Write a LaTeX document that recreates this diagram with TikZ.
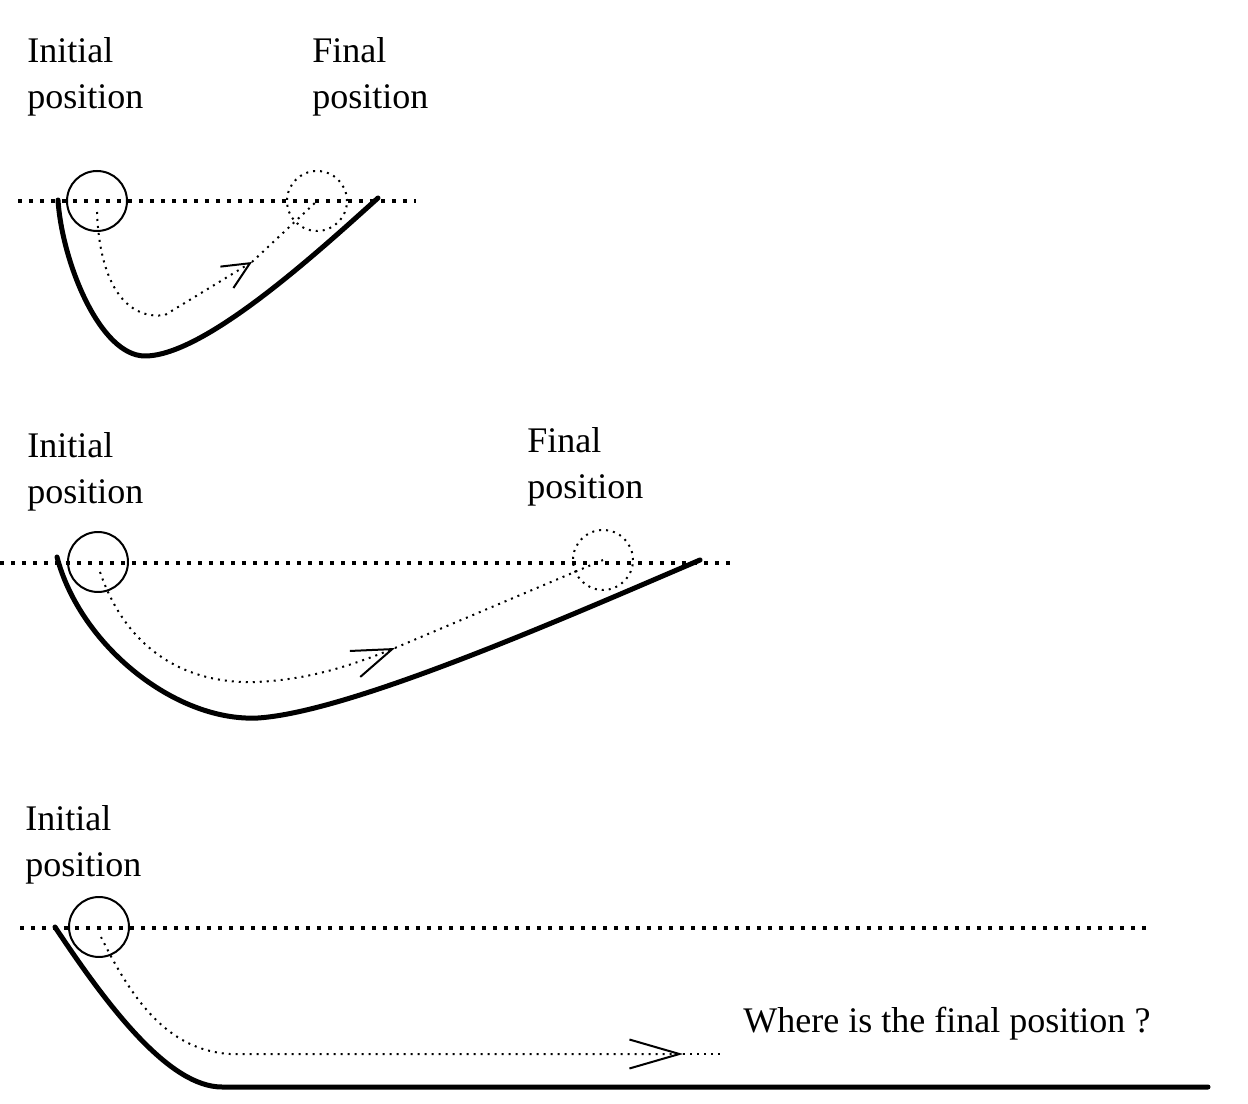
\documentclass[tikz,border=0pt]{standalone}
\usepackage{fontspec}
\setmainfont{Liberation Serif}
\usetikzlibrary{arrows.meta}

\begin{document}
\begin{tikzpicture}[x=0.02cm, y=-0.02cm,
label/.style={anchor=north west,inner sep=0pt,align=left,font=\fontsize{20.5}{26}\selectfont},
ball/.style={circle,draw,line width=0.04cm,inner sep=0pt,minimum size=1.2cm},
ghost/.style={ball,dash pattern=on 0.04cm off 0.1cm},
track/.style={line width=0.1cm,line cap=round,line join=round},
level/.style={line width=0.08cm,dash pattern=on 0.08cm off 0.14cm},
route/.style={line width=0.04cm,dash pattern=on 0.04cm off 0.1cm},
tipA/.style={-{Straight Barb[length=0.54cm,width=0.5cm]}},
tipB/.style={-{Straight Barb[length=0.8cm,width=0.56cm]}},
tipC/.style={-{Straight Barb[length=1cm,width=0.58cm]}}
]
\useasboundingbox (0,0) rectangle (1248,1104);

%create nodes
\node[label] (ini1) at (27,37) {Initial\\position};
\node[label] (fin1) at (312,37) {Final\\position};
\node[ball] (ball1) at (97,201) {};
\node[ghost] (end1) at (317,201) {};

\node[label] (ini2) at (27,432) {Initial\\position};
\node[label] (fin2) at (527,427) {Final\\position};
\node[ball] (ball2) at (98,562) {};
\node[ghost] (end2) at (603,560) {};

\node[label] (ini3) at (25,805) {Initial\\position};
\node[ball] (ball3) at (99,927) {};
\node[label] (ask) at (743,1007) {Where is the final position ?};

\coordinate (s1) at (97,212);
\coordinate (t1) at (252,262);
\coordinate (s2) at (100,572);
\coordinate (t2) at (395,648);
\coordinate (s3) at (101,937);
\coordinate (t3) at (683,1054);
\coordinate (e3) at (723,1054);

%draw levels
\draw[level] (18,201) -- (416,201);
\draw[level] (0,563) -- (736,563);
\draw[level] (20,928) -- (1150,928);

%draw tracks
\draw[track] (58,200) .. controls (62,262) and (100,356) .. (145,356) .. controls (205,356) and (320,250) .. (378,198);
\draw[track] (57,557) .. controls (80,645) and (175,722) .. (258,718) .. controls (350,712) and (560,620) .. (700,560);
\draw[track] (55,927) .. controls (110,1010) and (170,1087) .. (222,1087) -- (1208,1087);

%draw routes
\draw[route,tipA] (s1) .. controls (100,290) and (130,320) .. (165,315) -- (t1);
\draw[route] (t1) -- (end1.center);
\draw[route,tipB] (s2) .. controls (125,645) and (180,684) .. (255,682) .. controls (310,680) and (355,664) .. (t2);
\draw[route] (t2) -- (end2.center);
\draw[route,tipC] (s3) .. controls (130,995) and (165,1050) .. (230,1054) -- (t3);
\draw[route] (t3) -- (e3);
\end{tikzpicture}
\end{document}
